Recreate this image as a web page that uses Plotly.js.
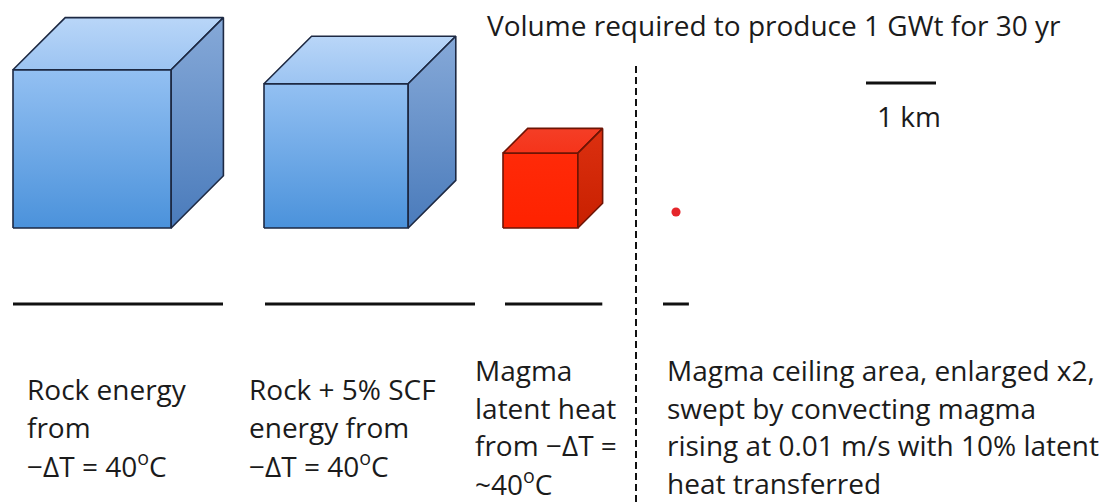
<!DOCTYPE html>
<html>
<head>
<meta charset="utf-8">
<script src="https://cdn.plot.ly/plotly-3.0.1.min.js"></script>
<style>
html,body{margin:0;padding:0;background:#fff;}
#chart{width:1114px;height:504px;}
</style>
</head>
<body>
<div id="chart"></div>
<script>
// ---------------- data ----------------
const categories = ['Rock', 'Rock + 5% SCF', 'Magma latent heat', 'Magma ceiling (convecting)'];
const cubeEdgeKm = [2.26, 2.06, 1.07];      // edge length of the volume cubes (km)
const dotDiameterKm = 0.13;                  // tiny volume for convecting magma (km)
const lineLengthKm = [3.0, 3.0, 1.39, 0.37]; // horizontal bars under each item (km)
const scaleBarKm = 1;
const titleText = 'Volume required to produce 1 GWt for 30 yr';
const scaleLabel = '1 km';
const labelLines = [
  ['Rock energy', 'from', '\u2212\u0394T = 40<sup>o</sup>C'],
  ['Rock + 5% SCF', 'energy from', '\u2212\u0394T = 40<sup>o</sup>C'],
  ['Magma', 'latent heat', 'from \u2212\u0394T =', '~40<sup>o</sup>C'],
  ['Magma ceiling area, enlarged x2,', 'swept by convecting magma', 'rising at 0.01 m/s with 10% latent', 'heat transferred']
];

// ---------------- layout constants ----------------
const PX_PER_KM = 70;
const itemLeft = [13, 264, 503, 672];
const cubeBase = 228;
const depthRatio = 0.33;
const barY = 304;
const barLeft = [13, 265, 505, 663];
const labelX = [26, 248, 474, 666];
const labelY0 = [389, 389, 370, 370];
const lineGap = 37.5;
const FONT = '"Open Sans", Lato, sans-serif';
const FS = 28;
const TXT = '#1b1b1b';

const styles = [
  {front:['#93c0f2','#4b92db'], top:['#b9d6f8','#9cc4f2'], right:['#86a9d8','#4a7bbb'], edge:'#1d2943'},
  {front:['#93c0f2','#4b92db'], top:['#b9d6f8','#9cc4f2'], right:['#86a9d8','#4a7bbb'], edge:'#1d2943'},
  {front:['#ff2a08','#ff2200'], top:['#f43e26','#f5341a'], right:['#dc3010','#c82000'], edge:'#6e1405'}
];

const traces = [];
function face(xs, ys, grad, edge) {
  const ymin = Math.min(...ys), ymax = Math.max(...ys);
  traces.push({
    type: 'scatter', mode: 'lines', x: xs.concat([xs[0]]), y: ys.concat([ys[0]]),
    fill: 'toself',
    fillgradient: {type: 'vertical', colorscale: [[0, grad[0]], [1, grad[1]]], start: ymin, stop: ymax},
    line: {color: edge, width: 1.6}, hoverinfo: 'skip', showlegend: false
  });
}

cubeEdgeKm.forEach((km, i) => {
  const s = km * PX_PER_KM, d = s * depthRatio, L = itemLeft[i], B = cubeBase, st = styles[i];
  face([L, L + s, L + s, L], [B, B, B - s, B - s], st.front, st.edge);
  face([L, L + s, L + s + d, L + d], [B - s, B - s, B - s - d, B - s - d], st.top, st.edge);
  face([L + s, L + s + d, L + s + d, L + s], [B, B - d, B - s - d, B - s], st.right, st.edge);
});

// red dot
traces.push({type: 'scatter', mode: 'markers', x: [itemLeft[3] + 4], y: [212],
  marker: {size: dotDiameterKm * PX_PER_KM, color: '#e5262b', line: {width: 0}},
  hoverinfo: 'skip', showlegend: false});

// bars
lineLengthKm.forEach((km, i) => {
  traces.push({type: 'scatter', mode: 'lines', x: [barLeft[i], barLeft[i] + km * PX_PER_KM], y: [barY, barY],
    line: {color: '#111', width: 3}, hoverinfo: 'skip', showlegend: false});
});

// scale bar
traces.push({type: 'scatter', mode: 'lines', x: [866, 866 + scaleBarKm * PX_PER_KM], y: [83, 83],
  line: {color: '#111', width: 3}, hoverinfo: 'skip', showlegend: false});

// dashed divider
traces.push({type: 'scatter', mode: 'lines', x: [636, 636], y: [66, 504],
  line: {color: '#111', width: 2, dash: '7px,4px'}, hoverinfo: 'skip', showlegend: false});

const annotations = [];
function txt(x, y, t) {
  annotations.push({x: x, y: y, xref: 'x', yref: 'y', text: t, showarrow: false, borderpad: 0,
    xanchor: 'left', yanchor: 'middle', align: 'left', font: {family: FONT, size: FS, color: TXT}});
}
txt(486, 25, titleText);
txt(876, 116, scaleLabel);
labelLines.forEach((lines, i) => {
  lines.forEach((t, j) => txt(labelX[i], labelY0[i] + j * lineGap, t));
});

const layout = {
  width: 1114, height: 504,
  margin: {l: 0, r: 0, t: 0, b: 0},
  paper_bgcolor: '#fff', plot_bgcolor: '#fff',
  xaxis: {range: [0, 1114], visible: false, fixedrange: true},
  yaxis: {range: [504, 0], visible: false, fixedrange: true},
  annotations: annotations,
  showlegend: false
};
Plotly.newPlot('chart', traces, layout, {staticPlot: true, displayModeBar: false});
</script>
</body>
</html>
